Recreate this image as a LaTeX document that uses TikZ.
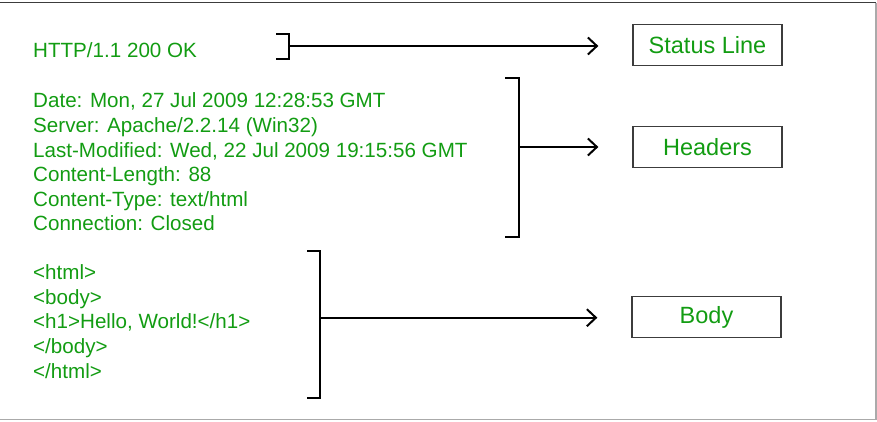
\documentclass[tikz,border=0pt]{standalone}
\usepackage{fontspec}
\setmainfont{Liberation Sans}
\usetikzlibrary{arrows.meta}
\definecolor{txtgreen}{RGB}{18,156,18}
\definecolor{framegray}{RGB}{170,170,170}
\definecolor{boxgray}{RGB}{60,60,60}
\tikzset{
  linetext/.style={anchor=base west, inner sep=0pt, text=txtgreen, font=\fontsize{20.6}{24}\selectfont},
  labelbox/.style={draw=boxgray, line width=1.3pt, minimum width=149pt, minimum height=41pt, inner sep=0pt, text=txtgreen, font=\fontsize{23.5}{28}\selectfont},
  brace/.style={line width=2.8pt, line cap=butt, line join=miter},
  pointer/.style={line width=2pt, -{Straight Barb[length=9pt,width=17pt,line width=2pt]}},
}
\begin{document}
\begin{tikzpicture}[x=1pt,y=-1pt]
\useasboundingbox (0,0) rectangle (877,421);
% frame
\draw[line width=1.3pt, draw=boxgray] (0,2.5) -- (876,2.5);
\draw[line width=1.3pt, draw=framegray] (876,2.5) -- (876,419.5) -- (0,419.5);

% status line
\node[linetext] (st) at (33,57.7) {HTTP/1.1 200 OK};
% headers
\foreach \t [count=\i] in {{Date: Mon, 27 Jul 2009 12:28:53 GMT},{Server: Apache/2.2.14 (Win32)},{Last-Modified: Wed, 22 Jul 2009 19:15:56 GMT},{Content-Length: 88},{Content-Type: text/html},{Connection: Closed}}
  \node[linetext] (hd\i) at (33,{107.8+24.6*(\i-1)}) {\t};
% body
\foreach \t [count=\i] in {{<html>},{<body>},{<h1>Hello, World!</h1>},{</body>},{</html>}}
  \node[linetext] (bd\i) at (33,{279.3+24.7*(\i-1)}) {\t};

% boxes
\node[labelbox] (status) at (707.5,44.8) {Status Line};
\node[labelbox] (headers) at (707.5,146.8) {Headers};
\node[labelbox] (body) at (706.5,317) {Body};

% brackets
\draw[brace] (276,34) -- (289,34) -- (289,59) -- (276,59);
\coordinate (sb) at (289,46);
\draw[brace] (505,78) -- (519,78) -- (519,237) -- (505,237);
\coordinate (hb) at (519,147);
\draw[brace] (307,251) -- (320,251) -- (320,398) -- (307,398);
\coordinate (bb) at (320,317.7);

% arrows
\draw[pointer] (sb) -- ([xshift=-34pt]status.west |- sb);
\draw[pointer] (hb) -- ([xshift=-34pt]headers.west |- hb);
\draw[pointer] (bb) -- ([xshift=-34pt]body.west |- bb);
\end{tikzpicture}
\end{document}
